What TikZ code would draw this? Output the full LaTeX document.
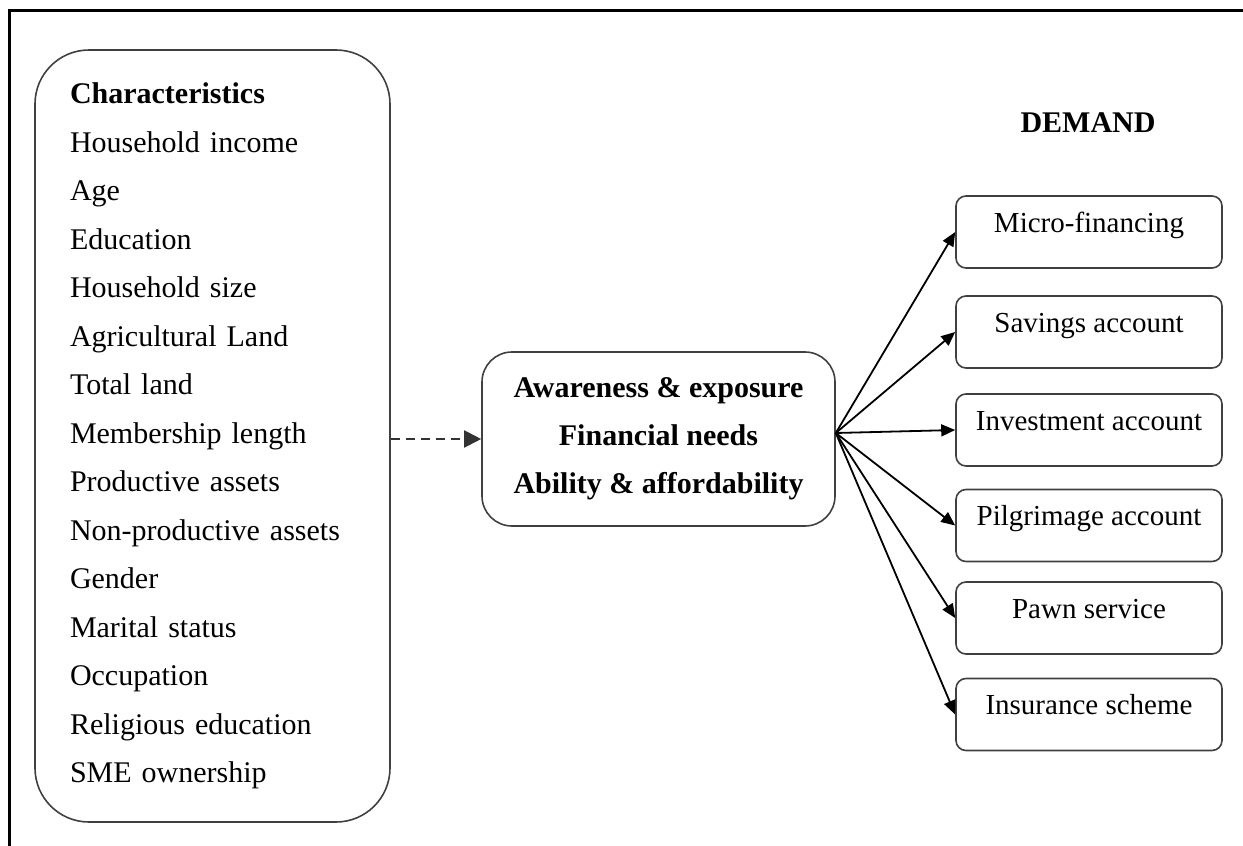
\documentclass[tikz,border=0pt]{standalone}
\usepackage{fontspec}
\setmainfont{Liberation Serif}
\usepackage{tikz}
\usetikzlibrary{arrows.meta, positioning}
\tikzset{
  listbox/.style={rectangle, rounded corners=27pt, draw=black!75, line width=0.8pt, minimum width=177.5pt, minimum height=386pt, text width=142.5pt, inner xsep=17.5pt, align=left, font=\fontsize{15}{24.25}\selectfont},
  factorbox/.style={rectangle, rounded corners=15pt, draw=black!75, line width=0.8pt, minimum width=176.5pt, minimum height=87pt, align=center, font=\fontsize{15}{24}\selectfont\bfseries},
  servicebox/.style={rectangle, rounded corners=5pt, draw=black!75, line width=0.8pt, minimum width=133pt, inner sep=0pt, text height=18pt, text depth=18pt, align=center, font=\fontsize{14.5}{17}\selectfont},
  arrow/.style={-{Triangle[length=7pt, width=6pt]}, line width=0.9pt},
  dashedarrow/.style={-{Triangle[length=8.5pt, width=8.5pt]}, line width=1pt, black!80, dash pattern=on 4.5pt off 3pt}
}
\begin{document}
\begin{tikzpicture}[x=0.5pt, y=-0.5pt]
  \useasboundingbox (0,0) rectangle (1243,846);
  % frame
  \draw[line width=1.5pt] (9,846) -- (9,10) -- (1243,10);

  % Characteristics
  \node[listbox] (chars) at (212.5,436) {\textbf{Characteristics}\\Household income\\Age\\Education\\Household size\\Agricultural Land\\Total land\\Membership length\\Productive assets\\Non-productive assets\\Gender\\Marital status\\Occupation\\Religious education\\SME ownership};

  % Factors
  \node[factorbox] (factors) at (658.5,439) {Awareness \& exposure\\Financial needs\\Ability \& affordability};
  \coordinate (fan) at ([yshift=3pt]factors.east);

  % Demand
  \node[font=\fontsize{15}{18}\selectfont\bfseries] (demand) at (1088,123) {DEMAND};
  \node[servicebox] (micro) at (1089,232) {Micro-financing};
  \node[servicebox] (savings) at (1089,332) {Savings account};
  \node[servicebox] (invest) at (1089,430) {Investment account};
  \node[servicebox] (pilgrim) at (1089,525.5) {Pilgrimage account};
  \node[servicebox] (pawn) at (1089,618) {Pawn service};
  \node[servicebox] (insure) at (1089,714.5) {Insurance scheme};

  % Arrows
  \draw[dashedarrow] (chars.east |- factors.west) -- (factors.west);
  \draw[arrow] (fan) -- (micro.west);
  \draw[arrow] (fan) -- (savings.west);
  \draw[arrow] (fan) -- (invest.west);
  \draw[arrow] (fan) -- (pilgrim.west);
  \draw[arrow] (fan) -- (pawn.west);
  \draw[arrow] (fan) -- (insure.west);
\end{tikzpicture}
\end{document}
